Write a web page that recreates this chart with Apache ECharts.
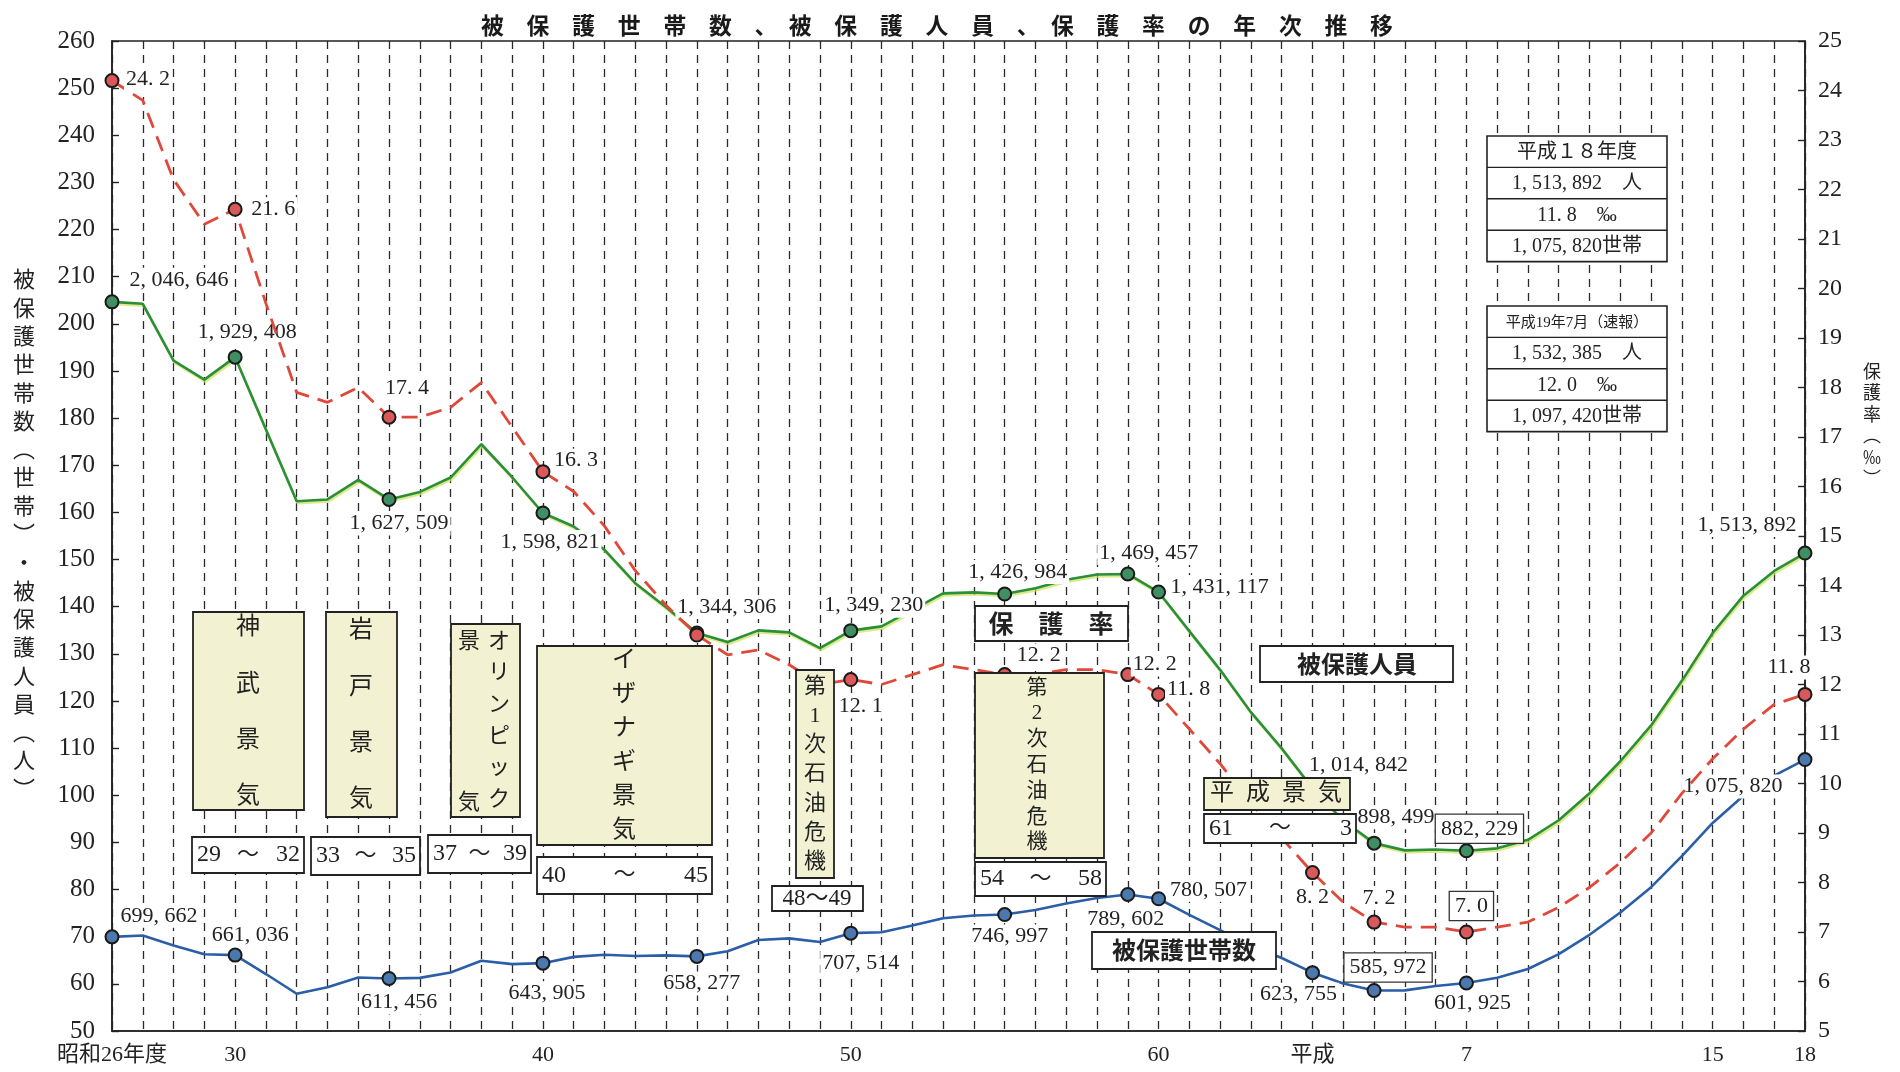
<!DOCTYPE html>
<html lang="ja">
<head>
<meta charset="utf-8">
<title>被保護世帯数、被保護人員、保護率の年次推移</title>
<script src="https://cdn.jsdelivr.net/npm/echarts@6/dist/echarts.min.js"></script>
<style>
html,body{margin:0;padding:0;background:#ffffff;}
#chart{width:1900px;height:1072px;}
</style>
</head>
<body>
<div id="chart"></div>
<script>
// ================= DATA =================
const years = ['昭和26','昭和27','昭和28','昭和29','昭和30','昭和31','昭和32','昭和33','昭和34','昭和35',
  '昭和36','昭和37','昭和38','昭和39','昭和40','昭和41','昭和42','昭和43','昭和44','昭和45',
  '昭和46','昭和47','昭和48','昭和49','昭和50','昭和51','昭和52','昭和53','昭和54','昭和55',
  '昭和56','昭和57','昭和58','昭和59','昭和60','昭和61','昭和62','昭和63','平成元','平成2',
  '平成3','平成4','平成5','平成6','平成7','平成8','平成9','平成10','平成11','平成12',
  '平成13','平成14','平成15','平成16','平成17','平成18'];

// 被保護人員 (人)
const persons = [2046646,2042550,1922060,1881687,1929408,1775971,1623744,1627571,1669180,1627509,
  1643445,1674001,1744639,1674661,1598821,1570054,1520733,1449970,1398725,1344306,
  1325218,1349811,1345549,1312339,1349230,1358316,1393128,1428261,1430488,1426984,
  1439226,1457383,1468245,1469457,1431117,1348163,1266126,1176258,1099520,1014842,
  946374,898499,883112,884912,882229,887450,905589,946994,1004472,1072241,
  1148088,1242723,1344327,1423388,1475838,1513892];

// 被保護世帯数 (世帯)
const households = [699662,702450,681351,662833,661036,620859,579037,592626,613532,611456,
  612666,624012,649073,641869,643905,657193,661647,659096,660509,658277,
  669354,692867,696540,688736,707514,709613,723587,739244,744841,746997,
  756726,770388,782265,789602,780507,746355,713825,681018,654915,623755,
  600697,585972,586106,595407,601925,613106,631488,663060,704055,751303,
  805169,870931,941270,998887,1041508,1075820];

// 保護率 (‰)
const rates = [24.2,23.8,22.2,21.3,21.6,19.7,17.9,17.7,18.0,17.4,
  17.4,17.6,18.1,17.2,16.3,15.9,15.2,14.3,13.6,13.0,
  12.6,12.7,12.4,12.0,12.1,12.0,12.2,12.4,12.3,12.2,
  12.2,12.3,12.3,12.2,11.8,11.1,10.4,9.6,8.9,8.2,
  7.6,7.2,7.1,7.1,7.0,7.1,7.2,7.5,7.9,8.4,
  9.0,9.8,10.5,11.1,11.6,11.8];

// years with a marker and value label (indices into years)
const markedIdx = [0,4,9,14,19,24,29,33,34,39,41,44,55];

// x-axis tick labels
const tickLabels = {'昭和26':'昭和26年度','昭和30':'30','昭和40':'40','昭和50':'50','昭和60':'60',
  '平成2':'平成','平成7':'7','平成15':'15','平成18':'18'};

// left / right axis ticks
const leftTicks = {min:50, max:260, step:10};
const rightTicks = {min:5, max:25, step:1};

// economic periods (text)
const periods = [
  {name:'神武景気', from:'29', to:'32'},
  {name:'岩戸景気', from:'33', to:'35'},
  {name:'オリンピック景気', from:'37', to:'39'},
  {name:'イザナギ景気', from:'40', to:'45'},
  {name:'第1次石油危機', from:'48', to:'49'},
  {name:'第2次石油危機', from:'54', to:'58'},
  {name:'平成景気', from:'61', to:'3'}
];

const summaryH18 = ['平成１８年度','1, 513, 892　人','11. 8　‰','1, 075, 820世帯'];
const summaryH19 = ['平成19年7月（速報）','1, 532, 385　人','12. 0　‰','1, 097, 420世帯'];

// ================= STYLE / LAYOUT =================
const FONT = '"Liberation Serif","Noto Sans CJK JP",serif';
const CJK = '"Noto Sans CJK JP",sans-serif';
const INK = '#222222';
const YEL = '#f2f2d3';

// label centre offsets (px) relative to marker
const personPos = {0:[67,-22],4:[12,-25],9:[10,24],14:[7,29],19:[30,-26],24:[23,-25],29:[13,-22],
  33:[21,-21],34:[61,-5],39:[46,-23],41:[22,-26],44:[13,-22],55:[-58,-28]};
const ratePos = {0:[36,-1],4:[38,0],9:[18,-29],14:[33,-11],24:[10,27],29:[34,-19],33:[27,-10],
  34:[30,-5],39:[0,25],41:[5,-24],44:[5,-26],55:[-16,-27]};
const hhPos = {0:[47,-21],4:[15,-20],9:[10,24],14:[4,30],19:[5,27],24:[10,30],29:[5,22],
  33:[-2,25],34:[50,-9],39:[-14,22],41:[14,-23],44:[6,20],55:[-72,27]};

const fmtNum = n => n.toLocaleString('en-US').replace(/,/g, ', ');
const fmtRate = r => r.toFixed(1).replace('.', '. ');

const labelBase = {show:true, position:'inside', color:INK, fontFamily:FONT, fontSize:22,
  backgroundColor:'#ffffff', padding:[1,2]};
const boxedLabel = {borderColor:'#333', borderWidth:1.3, padding:[3,5]};

function build(values, div, fill, pos, boxed, fmt){
  return values.map((v,i)=>{
    const item = {value: v/div};
    if (markedIdx.indexOf(i) >= 0){
      item.symbol = 'circle';
      item.symbolSize = 13;
      item.itemStyle = {color:fill, borderColor:'#1a1a1a', borderWidth:2};
      if (pos[i]) {
        item.label = Object.assign({}, labelBase, {offset:pos[i], formatter: fmt(v)},
          boxed.indexOf(i) >= 0 ? boxedLabel : {});
      }
    } else {
      item.symbol = 'none';
    }
    return item;
  });
}

// ================= GRAPHICS (annotations) =================
const G = [];
function box(x1,y1,x2,y2,fill,lw){
  G.push({type:'rect', z:100, silent:true, shape:{x:x1,y:y1,width:x2-x1,height:y2-y1},
    style:{fill:fill, stroke:INK, lineWidth:lw||1.8}});
}
function hline(x1,x2,y){
  G.push({type:'line', z:101, silent:true, shape:{x1:x1,y1:y,x2:x2,y2:y}, style:{stroke:INK, lineWidth:1.4}});
}
function txt(x,y,s,size,opt){
  const st = Object.assign({text:s, fill:INK, fontSize:size||22, fontFamily:FONT,
    textAlign:'center', textVerticalAlign:'middle', align:'center', verticalAlign:'middle'}, opt||{});
  if (st.textAlign !== st.align) st.align = st.textAlign;
  G.push({type:'text', z:102, silent:true, x:x, y:y, style:st});
}
function vcol(x,y0,step,str,size,opt){
  Array.from(str).forEach((ch,i)=>txt(x, y0+i*step, ch, size, opt));
}
function rangeBox(x1,y1,x2,y2,a,b){
  box(x1,y1,x2,y2,'#ffffff',1.8);
  const cy = (y1+y2)/2;
  txt(x1+5, cy, a, 24, {textAlign:'left'});
  txt((x1+x2)/2, cy, '～', 22);
  txt(x2-4, cy, b, 24, {textAlign:'right'});
}

// 神武景気
box(193,612,304,810,YEL);
vcol(248,628,56.3,periods[0].name,24);
rangeBox(192,837,304,873,periods[0].from,periods[0].to);
// 岩戸景気
box(326,612,397,817,YEL);
vcol(361,631,56.3,periods[1].name,24);
rangeBox(311,837,420,875,periods[1].from,periods[1].to);
// オリンピック景気
box(451,624,520,817,YEL);
vcol(499,642,31.6,'オリンピック',22);
txt(469,642,'景',22); txt(469,803,'気',22);
rangeBox(428,835,531,873,periods[2].from,periods[2].to);
// イザナギ景気
box(537,646,712,845,YEL);
vcol(624,661,34,periods[3].name,24);
rangeBox(537,857,712,894,periods[3].from,periods[3].to);
// 第1次石油危機
box(796,670,834,878,YEL);
vcol(815,687,29.2,periods[4].name,22);
box(772,886,863,911,'#ffffff',1.8);
txt(817,899,periods[4].from+'～'+periods[4].to,23);
// 第2次石油危機
box(975,673,1104,858,YEL);
vcol(1037,688,25.8,periods[5].name,21);
rangeBox(975,862,1106,896,periods[5].from,periods[5].to);
// 平成景気
box(1204,778,1350,810,YEL);
Array.from(periods[6].name).forEach((ch,i)=>txt(1222+i*36,794,ch,24));
rangeBox(1204,814,1356,843,periods[6].from,periods[6].to);

// series name boxes
box(975,606,1128,641,'#ffffff',1.8);
Array.from('保護率').forEach((ch,i)=>txt(1001+i*50,623,ch,25,{fontFamily:CJK,fontWeight:'bold'}));
box(1260,646,1453,682,'#ffffff',1.8);
txt(1357,664,'被保護人員',24,{fontFamily:CJK,fontWeight:'bold'});
box(1092,932,1276,969,'#ffffff',1.8);
txt(1184,950,'被保護世帯数',24,{fontFamily:CJK,fontWeight:'bold'});

// summary boxes
function summary(y0, rows, firstSize){
  const h = 31.4;
  box(1487,y0,1667,y0+4*h,'#ffffff',1.6);
  for (let i=1;i<4;i++) hline(1487,1667,y0+i*h);
  rows.forEach((r,i)=>txt(1577, y0+h*i+h/2+1, r, i===0?firstSize:20));
}
summary(136, summaryH18, 20);
summary(306, summaryH19, 15);

// axis names (vertical)
vcol(24,279,28.3,'被保護世帯数︵世帯︶・被保護人員︵人︶',22,{fontFamily:CJK});
vcol(1872,371,21.5,'保護率︵‰︶',18,{fontFamily:CJK});

// ================= CHART =================
const chart = echarts.init(document.getElementById('chart'), null, {renderer:'canvas'});
chart.setOption({
  animation:false,
  backgroundColor:'#ffffff',
  title:{
    text:'被　保　護　世　帯　数　、　被　保　護　人　員　、　保　護　率　の　年　次　推　移',
    left:476, top:9,
    textStyle:{fontFamily:CJK, fontWeight:'bold', fontSize:22.8, color:'#1a1a1a'}
  },
  grid:{left:112, right:95, top:41, bottom:41, show:true, borderColor:INK, borderWidth:1.6,
    backgroundColor:'transparent'},
  xAxis:{
    type:'category', data:years, boundaryGap:false,
    axisLine:{show:true, lineStyle:{color:INK, width:1.6}},
    axisTick:{show:false},
    axisLabel:{interval:(i,v)=>tickLabels[v]!==undefined, formatter:v=>tickLabels[v]||'',
      color:INK, fontFamily:FONT, fontSize:22, margin:13},
    splitLine:{show:true, interval:0, lineStyle:{color:'#2a2a2a', width:1.3, type:[8,6]}}
  },
  yAxis:[
    {type:'value', position:'left', min:leftTicks.min, max:leftTicks.max, interval:leftTicks.step,
      axisLine:{show:true, lineStyle:{color:INK, width:1.6}},
      axisTick:{show:true, inside:true, length:7, lineStyle:{color:INK, width:1.4}},
      axisLabel:{color:INK, fontFamily:FONT, fontSize:25, margin:17},
      splitLine:{show:false}},
    {type:'value', position:'right', min:rightTicks.min, max:rightTicks.max, interval:rightTicks.step,
      axisLine:{show:true, lineStyle:{color:INK, width:1.6}},
      axisTick:{show:true, inside:true, length:7, lineStyle:{color:INK, width:1.4}},
      axisLabel:{color:INK, fontFamily:FONT, fontSize:24, margin:13},
      splitLine:{show:false}}
  ],
  series:[
    {name:'被保護人員', type:'line', yAxisIndex:0, z:3, silent:true, showAllSymbol:true,
      color:'#2b8f38',
      lineStyle:{color:'#2b8f38', width:2.6, shadowColor:'rgba(205,225,90,0.7)', shadowOffsetX:1, shadowOffsetY:2},
      data:build(persons,10000,'#3f8f63',personPos,[44],fmtNum)},
    {name:'被保護世帯数', type:'line', yAxisIndex:0, z:4, silent:true, showAllSymbol:true,
      color:'#2a5ea8',
      lineStyle:{color:'#2a5ea8', width:2.6},
      data:build(households,10000,'#4b78ad',hhPos,[41],fmtNum)},
    {name:'保護率', type:'line', yAxisIndex:1, z:5, silent:true, showAllSymbol:true,
      color:'#e0483a',
      lineStyle:{color:'#e0483a', width:2.8, type:[16,9]},
      data:build(rates,1,'#d9595a',ratePos,[44],fmtRate)}
  ],
  graphic:G
});
</script>
</body>
</html>
